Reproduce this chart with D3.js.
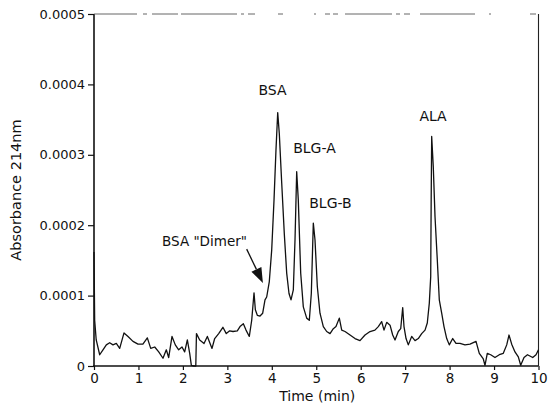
<!DOCTYPE html>
<html><head><meta charset="utf-8">
<script src="https://cdn.jsdelivr.net/npm/d3@7"></script>
<style>body{margin:0;background:#fff} svg{display:block}</style>
</head><body><svg id="c" width="549" height="409"></svg>
<script>
const time = [0, 0.015, 0.05, 0.128, 0.202, 0.277, 0.353, 0.427, 0.502, 0.578,
  0.675, 0.765, 0.877, 0.99, 1.10, 1.20, 1.276, 1.366, 1.456, 1.552,
  1.627, 1.68, 1.755, 1.829, 1.905, 1.98, 2.04, 2.10, 2.153, 2.19,
  2.25, 2.29, 2.305, 2.378, 2.475, 2.55, 2.655, 2.715, 2.805, 2.90,
  2.976, 3.053, 3.127, 3.224, 3.285, 3.36, 3.42, 3.494, 3.548, 3.60,
  3.63, 3.674, 3.735, 3.795, 3.847, 3.885, 3.944, 3.998, 4.05, 4.094,
  4.133, 4.169, 4.223, 4.281, 4.335, 4.387, 4.432, 4.484, 4.522, 4.56,
  4.596, 4.65, 4.709, 4.785, 4.844, 4.889, 4.934, 4.972, 5.024, 5.084,
  5.159, 5.235, 5.31, 5.384, 5.444, 5.519, 5.573, 5.647, 5.76, 5.872,
  5.984, 6.097, 6.21, 6.32, 6.396, 6.472, 6.524, 6.585, 6.66, 6.72,
  6.772, 6.846, 6.90, 6.945, 6.974, 7.02, 7.071, 7.147, 7.222, 7.296,
  7.372, 7.447, 7.498, 7.543, 7.575, 7.585, 7.597, 7.633, 7.672, 7.723,
  7.768, 7.822, 7.874, 7.935, 7.993, 8.07, 8.144, 8.234, 8.346, 8.459,
  8.594, 8.668, 8.758, 8.796, 8.848, 8.925, 9.021, 9.118, 9.208, 9.285,
  9.336, 9.397, 9.471, 9.546, 9.60, 9.674, 9.752, 9.87, 9.944, 10.0];
const absorbance = [1.62e-4, 0.65e-4, 0.37e-4, 0.16e-4, 0.23e-4, 0.30e-4, 0.33e-4, 0.30e-4, 0.32e-4, 0.25e-4,
  0.47e-4, 0.42e-4, 0.35e-4, 0.31e-4, 0.31e-4, 0.40e-4, 0.25e-4, 0.27e-4, 0.20e-4, 0.11e-4,
  0.23e-4, 0.12e-4, 0.42e-4, 0.30e-4, 0.23e-4, 0.27e-4, 0.20e-4, 0.37e-4, 0.18e-4, 0.01e-4,
  0.0, 0.0, 0.46e-4, 0.37e-4, 0.32e-4, 0.42e-4, 0.25e-4, 0.39e-4, 0.46e-4, 0.55e-4,
  0.46e-4, 0.50e-4, 0.49e-4, 0.50e-4, 0.56e-4, 0.60e-4, 0.51e-4, 0.42e-4, 0.65e-4, 1.04e-4,
  0.80e-4, 0.72e-4, 0.71e-4, 0.75e-4, 0.94e-4, 0.98e-4, 1.20e-4, 1.65e-4, 2.36e-4, 3.07e-4,
  3.60e-4, 3.30e-4, 2.60e-4, 1.88e-4, 1.32e-4, 1.03e-4, 0.94e-4, 1.08e-4, 1.79e-4, 2.76e-4,
  2.36e-4, 1.32e-4, 0.84e-4, 0.68e-4, 0.65e-4, 1.03e-4, 2.03e-4, 1.79e-4, 1.13e-4, 0.75e-4,
  0.56e-4, 0.49e-4, 0.46e-4, 0.53e-4, 0.56e-4, 0.68e-4, 0.51e-4, 0.49e-4, 0.44e-4, 0.39e-4,
  0.36e-4, 0.44e-4, 0.49e-4, 0.51e-4, 0.56e-4, 0.63e-4, 0.51e-4, 0.62e-4, 0.58e-4, 0.44e-4,
  0.37e-4, 0.49e-4, 0.53e-4, 0.83e-4, 0.56e-4, 0.39e-4, 0.30e-4, 0.42e-4, 0.36e-4, 0.39e-4,
  0.46e-4, 0.51e-4, 0.61e-4, 0.89e-4, 1.27e-4, 2.30e-4, 3.26e-4, 2.83e-4, 2.12e-4, 1.51e-4,
  0.94e-4, 0.75e-4, 0.56e-4, 0.39e-4, 0.30e-4, 0.39e-4, 0.32e-4, 0.32e-4, 0.30e-4, 0.31e-4,
  0.35e-4, 0.18e-4, 0.10e-4, 0.01e-4, 0.18e-4, 0.16e-4, 0.12e-4, 0.16e-4, 0.18e-4, 0.30e-4,
  0.44e-4, 0.31e-4, 0.20e-4, 0.13e-4, 0.01e-4, 0.12e-4, 0.16e-4, 0.12e-4, 0.16e-4, 0.23e-4];

const xTicks = [0, 1, 2, 3, 4, 5, 6, 7, 8, 9, 10];
const yTicks = [0, 0.0001, 0.0002, 0.0003, 0.0004, 0.0005];
const yTickLabels = ["0", "0.0001", "0.0002", "0.0003", "0.0004", "0.0005"];
const xTitle = "Time (min)";
const yTitle = "Absorbance 214nm";

const peakLabels = ["BSA", "BLG-A", "BLG-B", "ALA"];
const peakLabelTime = [4.016, 4.96, 5.32, 7.627];
const peakLabelAbs = [3.85e-4, 3.02e-4, 2.244e-4, 3.48e-4];
const dimerLabel = 'BSA "Dimer"';
const dimerLabelPos = [3.442, 1.705e-4];
const arrowFrom = [3.435, 1.66e-4];
const arrowTo = [3.80, 1.18e-4];

const svg = d3.select("#c");
const L = 94, R = 538.5, T = 14, B = 366;
const x = d3.scaleLinear().domain([0, 10]).range([L, R]);
const y = d3.scaleLinear().domain([0, 0.0005]).range([B, T]);
const font = "'DejaVu Sans', sans-serif";

// axes
const gx = svg.append("g").attr("transform", `translate(0,${B})`)
  .call(d3.axisBottom(x).tickValues(xTicks).tickFormat(d3.format("d")).tickSize(4).tickSizeOuter(0).tickPadding(3));
gx.select(".domain").remove();
gx.selectAll("line").attr("stroke", "#111").attr("stroke-width", 1.2);
gx.selectAll("text").attr("font-family", font).attr("font-size", 13.5).attr("fill", "#111");

const gy = svg.append("g").attr("transform", `translate(${L},0)`)
  .call(d3.axisLeft(y).tickValues(yTicks).tickFormat((d, i) => yTickLabels[i]).tickSize(6).tickSizeOuter(0).tickPadding(3));
gy.select(".domain").remove();
gy.selectAll("line").attr("stroke", "#111").attr("stroke-width", 1.2);
gy.selectAll("text").attr("font-family", font).attr("font-size", 13).attr("fill", "#111");

// frame
svg.append("line").attr("x1", L).attr("x2", L).attr("y1", T).attr("y2", B + 1)
  .attr("stroke", "#111").attr("stroke-width", 1.6);
svg.append("line").attr("x1", L - 1).attr("x2", R).attr("y1", B).attr("y2", B)
  .attr("stroke", "#111").attr("stroke-width", 1.4);
svg.append("line").attr("x1", R).attr("x2", R).attr("y1", T).attr("y2", B)
  .attr("stroke", "#222").attr("stroke-width", 1.1);
svg.append("line").attr("x1", L).attr("x2", R).attr("y1", T).attr("y2", T)
  .attr("stroke", "#555").attr("stroke-width", 0.9)
  .attr("stroke-dasharray", "43,6,4,5,26,3,56,4,3,4,7,23,5,31,2,9,5,3,5,7,47,4,4,4,6,10,55,14,2,39,6,10");

// trace
const pts = time.map((t, i) => [t, absorbance[i]]);
svg.append("path").datum(pts)
  .attr("d", d3.line().x(d => x(d[0])).y(d => y(d[1])))
  .attr("fill", "none").attr("stroke", "#111").attr("stroke-width", 1.3)
  .attr("stroke-linejoin", "round");

// titles
svg.append("text").attr("x", (L + R) / 2 + 1).attr("y", 401)
  .attr("text-anchor", "middle").attr("font-family", font).attr("font-size", 14)
  .attr("fill", "#111").text(xTitle);
svg.append("text").attr("transform", `translate(21,${(T + B) / 2 + 0}) rotate(-90)`)
  .attr("text-anchor", "middle").attr("font-family", font).attr("font-size", 14.5)
  .attr("fill", "#111").text(yTitle);

// peak labels
peakLabels.forEach((lab, i) => {
  svg.append("text").attr("x", x(peakLabelTime[i])).attr("y", y(peakLabelAbs[i]))
    .attr("text-anchor", "middle").attr("font-family", font).attr("font-size", 14)
    .attr("fill", "#111").text(lab);
});
svg.append("text").attr("x", x(dimerLabelPos[0])).attr("y", y(dimerLabelPos[1]))
  .attr("text-anchor", "end").attr("font-family", font).attr("font-size", 13.5)
  .attr("fill", "#111").text(dimerLabel);

// arrow
const ax0 = x(arrowFrom[0]), ay0 = y(arrowFrom[1]);
const ax1 = x(arrowTo[0]), ay1 = y(arrowTo[1]);
const ang = Math.atan2(ay1 - ay0, ax1 - ax0);
const hl = 15, hw = 5.5;
const bx = ax1 - hl * Math.cos(ang), by = ay1 - hl * Math.sin(ang);
svg.append("line").attr("x1", ax0).attr("y1", ay0).attr("x2", bx).attr("y2", by)
  .attr("stroke", "#111").attr("stroke-width", 1.3);
svg.append("path")
  .attr("d", `M${ax1},${ay1}L${bx + hw * Math.sin(ang)},${by - hw * Math.cos(ang)}L${bx - hw * Math.sin(ang)},${by + hw * Math.cos(ang)}Z`)
  .attr("fill", "#111");
</script></body></html>
